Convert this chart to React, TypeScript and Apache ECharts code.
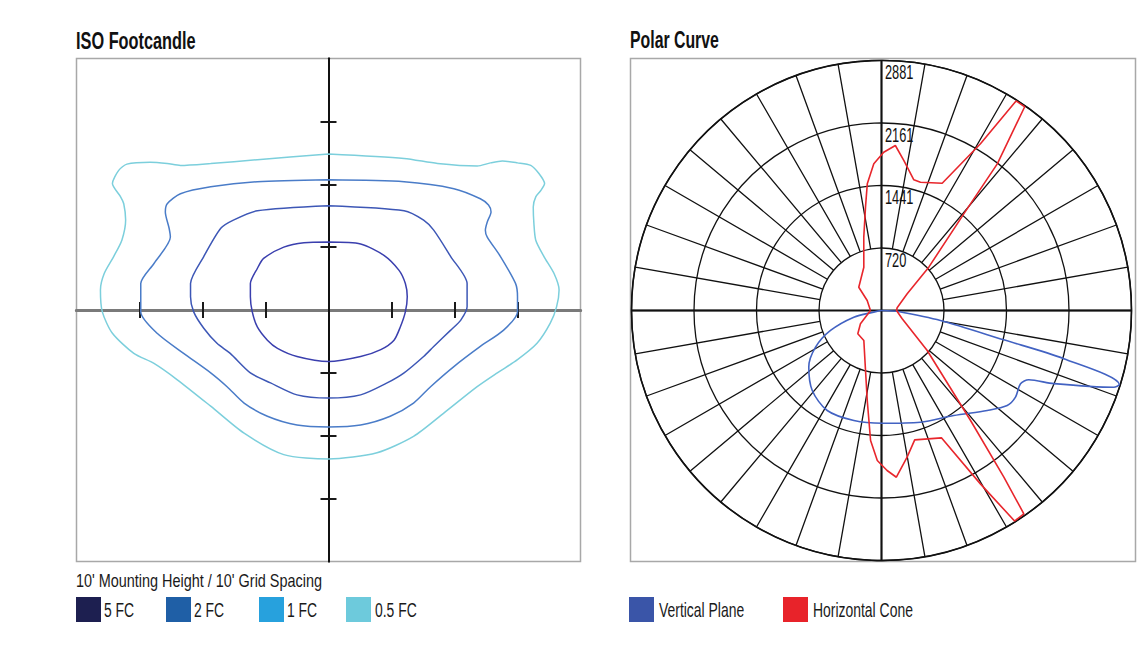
import { useEffect, useRef } from 'react';
import * as echarts from 'echarts';

const FONT = '"Liberation Sans", Arial, sans-serif';

// ---------- ISO footcandle plot (feet, 10' grid spacing) ----------
const gridTicks = [-30, -20, -10, 10, 20, 30];

const fc5 = [
  [0, 10.8], [5.1, 10.5], [8.8, 8.7], [11.2, 6.3], [12.2, 4.2], [12.5, 2.1], [12.2, -0.3],
  [11.4, -2.7], [10.4, -4.8], [8.3, -6.3], [5.1, -7.4], [0, -8.2], [-5.0, -7.4], [-8.1, -6.1],
  [-9.7, -4.8], [-11.3, -2.7], [-12.1, -0.3], [-12.4, 2.1], [-12.4, 4.2], [-11.3, 6.6],
  [-10.3, 8.2], [-7.1, 10.0], [-3.9, 10.7], [0, 10.8],
];
const fc2 = [
  [0, 16.6], [12.0, 15.8], [15.1, 14.3], [16.7, 12.7], [19.4, 8.5], [22.0, 4.2], [22.0, 0.5],
  [21.0, -1.6], [19.4, -3.2], [16.7, -5.8], [15.1, -7.4], [12.0, -10.0], [9.3, -11.6],
  [5.1, -13.5], [0, -14.0], [-5.0, -13.5], [-9.2, -11.6], [-12.4, -10.0], [-15.6, -6.9],
  [-17.7, -5.3], [-19.8, -2.9], [-21.4, -0.3], [-21.9, 2.1], [-21.9, 4.2], [-19.8, 8.5],
  [-17.1, 13.0], [-15.1, 14.3], [-11.3, 15.8], [0, 16.6],
];
const fc1 = [
  [0, 20.7], [12.0, 20.4], [19.9, 19.3], [24.1, 17.7], [25.4, 16.7], [25.8, 15.6], [25.2, 14.0],
  [24.9, 12.7], [25.2, 11.6], [27.3, 8.5], [29.7, 4.2], [30.0, 2.1], [30.0, -0.3], [27.8, -3.2],
  [24.1, -5.8], [19.9, -9.0], [16.2, -12.2], [13.5, -14.8], [9.8, -16.9], [5.1, -18.3],
  [0, -18.6], [-5.0, -18.3], [-9.7, -16.9], [-13.4, -14.8], [-16.1, -12.2], [-18.7, -10.0],
  [-23.0, -6.9], [-27.2, -3.7], [-29.8, -0.3], [-29.8, 4.2], [-27.7, 7.4], [-25.1, 11.6],
  [-25.3, 13.0], [-25.9, 15.6], [-25.6, 16.9], [-23.5, 18.5], [-18.7, 19.6], [-11.3, 20.4],
  [0, 20.7],
];
const fc05 = [
  [0, 24.8], [12.0, 24.1], [17.3, 23.3], [23.6, 22.9], [25.7, 23.4], [27.6, 23.7], [30.0, 23.4],
  [32.1, 23.0], [33.4, 21.7], [34.3, 20.1], [33.7, 19.0], [32.9, 18.0], [32.5, 16.4],
  [32.6, 13.8], [32.9, 11.1], [34.2, 8.5], [35.8, 5.8], [36.6, 3.2], [36.2, 0.5], [35.2, -2.1],
  [33.1, -5.3], [30.0, -7.9], [26.8, -10.0], [23.6, -12.2], [18.3, -16.4], [13.5, -20.1],
  [7.7, -22.7], [0, -23.7], [-7.1, -23.0], [-13.4, -19.6], [-18.7, -15.3], [-24.0, -11.1],
  [-27.7, -8.5], [-30.9, -6.9], [-34.3, -3.7], [-35.9, -0.3], [-36.2, 3.2], [-35.6, 5.8],
  [-34.1, 8.5], [-32.8, 11.1], [-32.2, 14.3], [-32.5, 16.9], [-33.0, 18.0], [-34.3, 20.1],
  [-33.3, 22.2], [-32.0, 23.2], [-28.3, 23.5], [-25.6, 23.3], [-23.5, 23.0], [-18.7, 23.3],
  [-11.3, 23.9], [0, 24.8],
];
const contourNames = ['5 FC', '2 FC', '1 FC', '0.5 FC'];
const contourData = [fc5, fc2, fc1, fc05];
const contourLineColors = ['#3a3fae', '#3d57b6', '#4a7cc8', '#7ccfdc'];
const contourLegendColors = ['#1d1f50', '#1f5fa6', '#27a1dd', '#6dcadc'];

// ---------- Polar curve (candela vs. vertical angle, 0 = nadir, + right / - left) ----------
const ringValues = [720.25, 1440.5, 2160.75, 2881];
const ringLabels = ['720', '1441', '2161', '2881'];

const verticalPlane = [
  [181, 87.4], [689, 80.4], [1449, 76.5], [2173, 75.2], [2870, 72.7], [2819, 71.7],
  [2158, 67.0], [1876, 64.8], [1811, 62.2], [1839, 57.1], [1816, 52.9], [1677, 46.6],
  [1469, 34.5], [1363, 19.2], [1299, 0.4], [1307, -14.1], [1311, -28.5], [1219, -40.9],
  [1062, -52.1], [870, -60.9], [631, -68.6], [328, -76.4], [91, -78], [0, 0], [181, 87.4],
];
const horizontalCone = [
  [127, -90], [201, -124.9], [375, -135.7], [422, -145], [539, -157.8], [869, -166.4],
  [1205, -171.2], [1469, -173.6], [1693, -177], [1824, 179.2], [1908, 175.2], [1747, 171.5],
  [1551, 166.1], [1545, 163.1], [1625, 154.5], [2234, 149.3], [2870, 147.3], [2870, 144.9],
  [2153, 141.7], [1463, 139.6], [739, 132.5], [353, 123], [183, 99.8], [173, 90],
  [257, 68.2], [700, 48.8], [1631, 39], [2382, 36.3], [2860, 35], [2870, 32.3], [2300, 29.7],
  [1622, 25.2], [1539, 14.4], [1716, 9.9], [1929, 5.1], [1845, 2.0], [1729, -1.6],
  [1504, -4.8], [1050, -9], [716, -14.9], [401, -30.5], [383, -45.5], [287, -57.7],
  [127, -90],
];
const polarNames = ['Vertical Plane', 'Horizontal Cone'];
const polarLineColors = ['#4262c2', '#e8262c'];
const polarLegendColors = ['#3a55a8', '#e8232a'];

const CENTER = [881.5, 310.5];
const R = 250;

// condensed-looking text drawn by horizontally scaling a regular face
function condensedText(text: string, x: number, y: number, size: number, scaleX: number, bold = false, valign = 'middle', fill = '#1a1a1a') {
  return {
    type: 'text', x, y, scaleX, scaleY: 1, silent: true, z: 10,
    style: {
      text, fill,
      fontFamily: FONT, fontSize: size, fontWeight: bold ? 'bold' : 'normal',
      align: 'left', verticalAlign: valign, textAlign: 'left', textVerticalAlign: valign,
    },
  };
}

function legendItem(name: string, color: string, x: number, textX: number) {
  return [
    { type: 'rect', silent: true, z: 10, shape: { x, y: 597, width: 25, height: 25 }, style: { fill: color } },
    condensedText(name, textX, 610, 20.5, 0.68),
  ];
}

function buildOption() {
  const contourLegendX = [76, 166, 259, 346];
  const contourTextX = [104, 194, 287, 375];
  const polarLegendX = [629, 783];
  const polarTextX = [659, 813];

  const axisCommon = {
    type: 'value', min: -40, max: 40, interval: 10,
    axisLabel: { show: false }, splitLine: { show: false },
  };
  const xAxes = [0, 1].map((k) => ({
    ...axisCommon,
    gridIndex: k,
    z: 0,
    axisLine: { show: true, onZero: true, lineStyle: { color: '#7a7a7a', width: 3 } },
    axisTick: { show: true, inside: k === 1, length: 8, customValues: gridTicks, lineStyle: { color: '#1a1a1a', width: 2 } },
  }));
  const yAxes = [0, 1].map((k) => ({
    ...axisCommon,
    gridIndex: k,
    z: 1,
    axisLine: { show: true, onZero: true, lineStyle: { color: '#111', width: 2 } },
    axisTick: { show: true, inside: k === 1, length: 8, customValues: gridTicks, lineStyle: { color: '#1a1a1a', width: 2 } },
  }));

  const gridRect = { left: 76.5, top: 58.5, width: 504, height: 503 };

  return {
    animation: false,
    backgroundColor: '#ffffff',
    grid: [
      { ...gridRect, show: true, borderColor: '#a8a8a8', borderWidth: 1.5, backgroundColor: 'transparent' },
      { ...gridRect, show: false },
    ],
    xAxis: xAxes,
    yAxis: yAxes,
    polar: [
      { center: CENTER, radius: R },
      { center: CENTER, radius: [R / 4, R] },
    ],
    angleAxis: [
      {
        polarIndex: 0, type: 'value', min: -180, max: 180, interval: 90, startAngle: 90, clockwise: false,
        axisLine: { show: true, lineStyle: { color: '#111', width: 1.6 } },
        axisTick: { show: false }, axisLabel: { show: false },
        splitLine: { show: true, lineStyle: { color: '#111', width: 2 } },
      },
      {
        polarIndex: 1, type: 'value', min: -180, max: 180, interval: 10, startAngle: 90, clockwise: false,
        axisLine: { show: false }, axisTick: { show: false }, axisLabel: { show: false },
        splitLine: { show: true, lineStyle: { color: '#111', width: 1.3 } },
      },
    ],
    radiusAxis: [
      {
        polarIndex: 0, type: 'value', min: 0, max: ringValues[3], interval: ringValues[0],
        axisLine: { show: false }, axisTick: { show: false }, axisLabel: { show: false },
        splitLine: { show: true, lineStyle: { color: '#111', width: 1.3 } },
      },
      { polarIndex: 1, type: 'value', min: 0, max: 1, show: false },
    ],
    graphic: [
      {
        type: 'rect', z: 0, silent: true,
        shape: { x: 630.5, y: 58.5, width: 505, height: 503 },
        style: { fill: 'none', stroke: '#a8a8a8', lineWidth: 1.5 },
      },
      condensedText('ISO Footcandle', 76, 40, 24, 0.68, true, 'middle', '#111'),
      condensedText('Polar Curve', 630, 40, 24, 0.66, true, 'middle', '#111'),
      condensedText("10' Mounting Height / 10' Grid Spacing", 76, 581, 18.5, 0.78),
      ...contourNames.flatMap((n, i) => legendItem(n, contourLegendColors[i], contourLegendX[i], contourTextX[i])),
      ...polarNames.flatMap((n, i) => legendItem(n, polarLegendColors[i], polarLegendX[i], polarTextX[i])),
    ],
    series: [
      ...contourNames.map((n, i) => ({
        type: 'line', name: n, xAxisIndex: 0, yAxisIndex: 0,
        data: contourData[i], showSymbol: false, symbol: 'none', smooth: 0.25,
        color: contourLineColors[i],
        lineStyle: { color: contourLineColors[i], width: 1.5 },
        z: 3,
      })),
      ...polarNames.map((n, i) => ({
        type: 'line', name: n, coordinateSystem: 'polar', polarIndex: 0,
        data: i === 0 ? verticalPlane : horizontalCone,
        showSymbol: false, symbol: 'none', smooth: i === 0 ? 0.3 : false,
        color: polarLineColors[i],
        lineStyle: { color: polarLineColors[i], width: 1.6 },
        z: 4,
      })),
    ],
  };
}

export default function App() {
  const ref = useRef<HTMLDivElement>(null);
  useEffect(() => {
    document.body.style.margin = '0';
    const chart = echarts.init(ref.current as HTMLDivElement, null, { renderer: 'svg' });
    const option: any = buildOption();
    chart.setOption(option);
    // ring labels placed through the polar scale (at the top of each ring)
    const ringTexts = ringValues.map((v, i) => {
      const p = chart.convertToPixel({ seriesIndex: contourNames.length } as any, [v, 180]) as number[];
      return condensedText(ringLabels[i], p[0] + 3.5, p[1] + 2, 20, 0.64, false, 'top', '#111');
    });
    chart.setOption({ graphic: [...option.graphic, ...ringTexts] });
    return () => chart.dispose();
  }, []);
  return <div ref={ref} style={{ width: 1142, height: 646 }} />;
}
